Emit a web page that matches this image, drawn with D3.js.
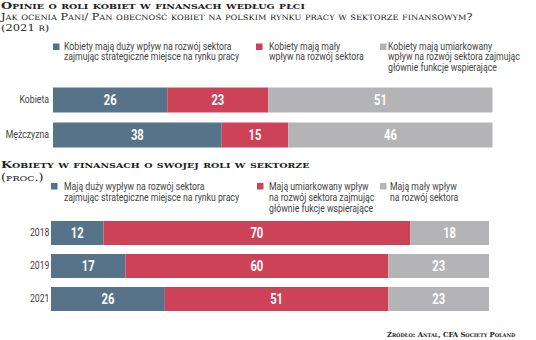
<!DOCTYPE html>
<html>
<head>
<meta charset="utf-8">
<script src="https://cdn.jsdelivr.net/npm/d3@7"></script>
<style>
  body { margin: 0; background: #fff; }
  .title { font-family: "DejaVu Serif", serif; fill: #222; }
  .sans { font-family: Roboto, "DejaVu Sans", sans-serif; }
</style>
</head>
<body>
<svg id="chart" width="536" height="340"></svg>
<script>
const topCategories = ["Kobieta", "Mężczyzna"];
const topKeys = ["duzy", "maly", "umiarkowany"];
const topDuzy = [26, 38];
const topMaly = [23, 15];
const topUmiarkowany = [51, 46];
const topLegend = [
  ["Kobiety mają duży wpływ na rozwój sektora", "zajmując strategiczne miejsce na rynku pracy"],
  ["Kobiety mają mały", "wpływ na rozwój sektora"],
  ["Kobiety mają umiarkowany", "wpływ na rozwój sektora zajmując", "głównie funkcje wspierające"]
];

const years = ["2018", "2019", "2021"];
const bottomKeys = ["duzy", "umiarkowany", "maly"];
const yearDuzy = [12, 17, 26];
const yearUmiarkowany = [70, 60, 51];
const yearMaly = [18, 23, 23];
const bottomLegend = [
  ["Mają duży wypływ na rozwój sektora", "zajmując strategiczne miejsce na rynku pracy"],
  ["Mają umiarkowany wpływ", "na rozwój sektora zajmując", "głównie fukcje wspierające"],
  ["Mają mały wpływ", "na rozwój sektora"]
];

// blue, red, gray in the order each chart stacks its series
const palette = ["#57738a", "#cd4257", "#b4b3b5"];
const condense = 0.83;

const svg = d3.select("#chart");

// serif small-caps headings built from tspans, widened to the original lettering
function title(text, x, y, size, bold, stretch) {
  const t = svg.append("text").attr("class", "title")
    .attr("transform", `translate(${x},${y}) scale(${stretch},1)`)
    .style("font-weight", bold ? "bold" : "normal");
  const runs = [];
  for (const ch of text) {
    const small = ch !== ch.toUpperCase();
    const last = runs[runs.length - 1];
    if (last && last.small === small) last.text += ch;
    else runs.push({ small, text: ch });
  }
  runs.forEach((r) => {
    t.append("tspan")
      .style("font-size", (r.small ? size * 0.74 : size) + "px")
      .text(r.text.toUpperCase());
  });
  return t;
}

function legend(items, xs, textXs, y0, lineH) {
  items.forEach((lines, i) => {
    svg.append("rect").attr("x", xs[i]).attr("y", y0 - 6.5).attr("width", 6.5).attr("height", 6.5)
      .attr("fill", palette[i]);
    const text = svg.append("text").attr("class", "sans")
      .attr("transform", `translate(${textXs[i]},${y0}) scale(${condense},1)`)
      .style("font-size", "10.5px").attr("fill", "#444");
    lines.forEach((line, j) => {
      text.append("tspan").attr("x", 0).attr("y", j * lineH).text(line);
    });
  });
}

function stackedBars(categories, keys, valueArrays, xRange, yRange, padInner, labelGap) {
  const rows = categories.map((c, i) => {
    const row = { category: c };
    keys.forEach((k, j) => { row[k] = valueArrays[j][i]; });
    return row;
  });

  const series = d3.stack().keys(keys).offset(d3.stackOffsetExpand)(rows);

  const x = d3.scaleLinear().domain([0, 1]).range(xRange);
  const y = d3.scaleBand().domain(categories).range(yRange).paddingInner(padInner);
  const color = d3.scaleOrdinal().domain(keys).range(palette);

  const g = svg.append("g");
  series.forEach((s) => {
    g.selectAll(null).data(s).join("rect")
      .attr("x", (d) => x(d[0]))
      .attr("y", (d) => y(d.data.category))
      .attr("width", (d) => x(d[1]) - x(d[0]))
      .attr("height", y.bandwidth())
      .attr("fill", color(s.key));

    g.selectAll(null).data(s).join("text")
      .attr("class", "sans")
      .attr("transform", (d) =>
        `translate(${(x(d[0]) + x(d[1])) / 2},${y(d.data.category) + y.bandwidth() / 2 + 5}) scale(0.8,1)`)
      .attr("text-anchor", "middle")
      .attr("fill", "#fff")
      .style("font-size", "14px")
      .style("font-weight", "bold")
      .text((d) => d.data[s.key]);
  });

  g.append("g")
    .attr("transform", `translate(${xRange[0] - labelGap},0)`)
    .call(d3.axisLeft(y).tickSize(0).tickPadding(0))
    .call((axis) => axis.select(".domain").remove())
    .call((axis) => axis.selectAll(".tick text")
      .attr("class", "sans")
      .attr("fill", "#444")
      .attr("transform", `scale(${condense},1)`)
      .style("font-size", "10.5px"));
}

title("Opinie o roli kobiet w finansach według płci", 1, 8.5, 10, true, 1.28);
title("Jak ocenia Pani/ Pan obecność kobiet na polskim rynku pracy w sektorze finansowym?", 1, 19.5, 10, false, 1.12);
title("(2021 r)", 1, 30.5, 10, false, 1.15);
title("Kobiety w finansach o swojej roli w sektorze", 1, 168, 10, true, 1.28);
title("(proc.)", 1, 180.5, 10.5, false, 1.22);
title("Źródło: Antal, CFA Society Poland", 387, 337, 7, true, 0.97);

legend(topLegend, [53, 256, 380], [64, 269, 388], 50, 10.5);
stackedBars(topCategories, topKeys, [topDuzy, topMaly, topUmiarkowany],
  [53, 492.5], [87.5, 147.5], 0.2857, 4);

legend(bottomLegend, [51, 257, 380], [64, 269, 390], 189.5, 11.5);
stackedBars(years, bottomKeys, [yearDuzy, yearUmiarkowany, yearMaly],
  [51, 489], [221, 311], 0.273, 1.5);
</script>
</body>
</html>
